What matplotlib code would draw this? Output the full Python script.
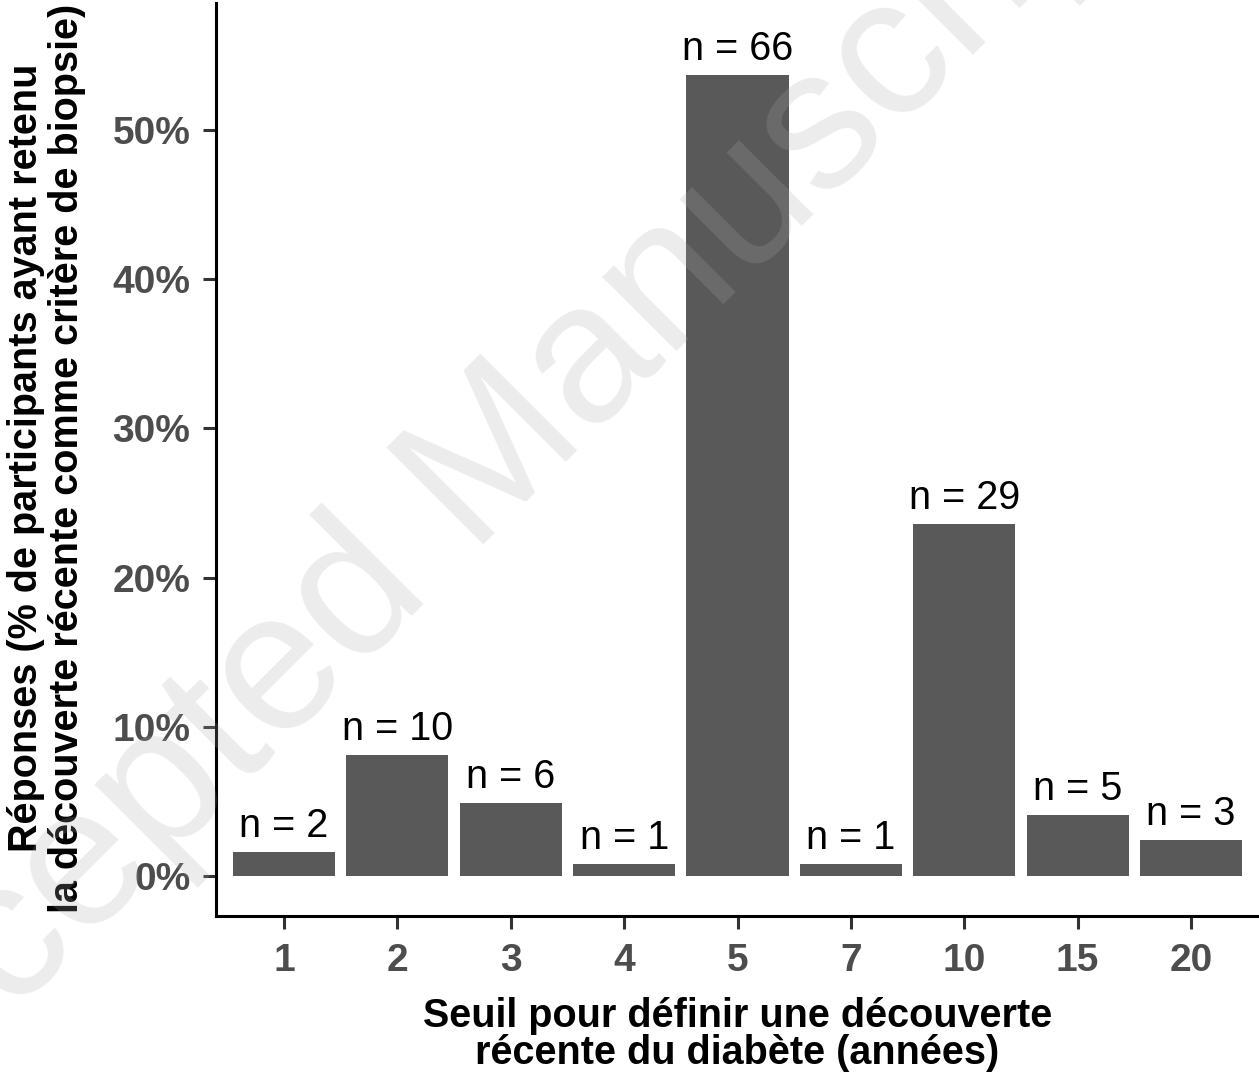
import matplotlib.pyplot as plt
from matplotlib.ticker import FuncFormatter

# seuil (annees) et nombre de reponses
seuils = ["1", "2", "3", "4", "5", "7", "10", "15", "20"]
n_rep = [2, 10, 6, 1, 66, 1, 29, 5, 3]

total = sum(n_rep)
pct = [100.0 * n / total for n in n_rep]

plt.rcParams['font.family'] = ['Liberation Sans', 'DejaVu Sans']

fig = plt.figure(figsize=(12.59, 10.77), dpi=100)
ax = fig.add_axes([216 / 1259, 1 - 916 / 1077, 1 - 216 / 1259, (916 - 3) / 1077])

pos = list(range(1, len(seuils) + 1))
ax.bar(pos, pct, width=0.9, color='#595959')

for x, y, n in zip(pos, pct, n_rep):
    ax.annotate("n = %d" % n, (x, y), xytext=(0, 10.8), textcoords='offset points',
                ha='center', va='baseline', fontsize=28.5, color='black')

ax.set_xlim(0.4, len(seuils) + 0.6)
ax.set_ylim(-2.68, 58.5)
ax.set_xticks(pos)
ax.set_xticklabels(seuils)
ax.set_yticks([0, 10, 20, 30, 40, 50])
ax.yaxis.set_major_formatter(FuncFormatter(lambda v, p: "%d%%" % v))

for s in ['top', 'right']:
    ax.spines[s].set_visible(False)
for s in ['left', 'bottom']:
    ax.spines[s].set_linewidth(2.2)
    ax.spines[s].set_color('black')

ax.tick_params(length=9.4, width=2.2, color='#333333', labelsize=28,
               labelcolor='#4D4D4D')
ax.tick_params(axis='y', pad=9)
ax.tick_params(axis='x', pad=10)
for lab in ax.get_xticklabels() + ax.get_yticklabels():
    lab.set_fontweight('bold')

# titres des axes
xc = (216 + 1259) / 2 / 1259
fig.text(xc, 1 - 1027 / 1077, "Seuil pour définir une découverte",
         ha='center', va='baseline', fontsize=28.5, fontweight='bold')
fig.text(xc, 1 - 1064 / 1077, "récente du diabète (années)",
         ha='center', va='baseline', fontsize=28.5, fontweight='bold')
yc = 1 - 458 / 1077
fig.text(37 / 1259, yc, "Réponses (% de participants ayant retenu",
         ha='center', va='baseline', rotation=90, rotation_mode='anchor',
         fontsize=28.5, fontweight='bold')
fig.text(78 / 1259, yc, "la découverte récente comme critère de biopsie)",
         ha='center', va='baseline', rotation=90, rotation_mode='anchor',
         fontsize=28.5, fontweight='bold')

# filigrane
fig.text(503.5 / 1259, 1 - 524.5 / 1077, "Accepted Manuscript", ha='center',
         va='baseline', rotation=45, rotation_mode='anchor', fontsize=143,
         color='#aaaaaa', alpha=0.22, zorder=10)

fig.savefig('out.png', dpi=100)
